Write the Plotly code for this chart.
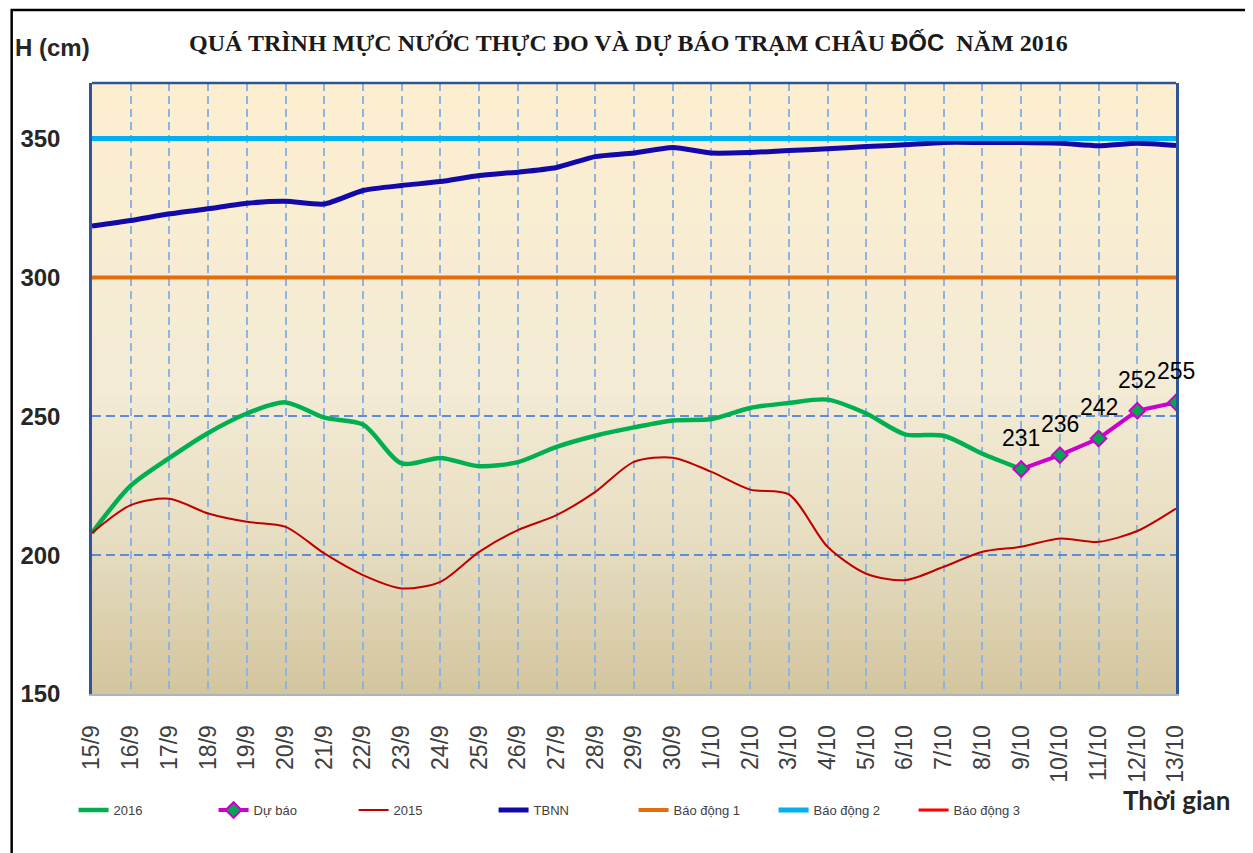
import plotly.graph_objects as go

dates = ["15/9", "16/9", "17/9", "18/9", "19/9", "20/9", "21/9", "22/9", "23/9", "24/9",
         "25/9", "26/9", "27/9", "28/9", "29/9", "30/9", "1/10", "2/10", "3/10", "4/10",
         "5/10", "6/10", "7/10", "8/10", "9/10", "10/10", "11/10", "12/10", "13/10"]

h2016 = [208, 225, 235, 244, 251, 255, 249.5, 247, 233, 235,
         232, 233.5, 239, 243, 246, 248.5, 249, 253, 254.8, 256,
         251, 243.5, 243, 236.5, 231, None, None, None, None]

du_bao = [None] * 24 + [231, 236, 242, 252, 255]

h2015 = [208, 218, 220.3, 215, 212, 210.2, 200.6, 192.8, 188, 190.4,
         201.2, 209, 214.4, 222.8, 233.6, 235.1, 230, 223.6, 221.9, 203,
         193.3, 191, 195.8, 201.2, 203, 206, 204.8, 208.7, 216.8]

tbnn = [318.5, 320.5, 322.9, 324.7, 326.7, 327.4, 326.4, 331.3, 333.1, 334.5,
        336.7, 337.9, 339.6, 343.5, 344.8, 346.8, 344.8, 345, 345.7, 346.3,
        347.1, 347.8, 348.6, 348.6, 348.6, 348.3, 347.4, 348.3, 347.5]

bao_dong_1 = [300] * len(dates)
bao_dong_2 = [350] * len(dates)
bao_dong_3 = [400] * len(dates)

y_ticks = [150, 200, 250, 300, 350]

fig = go.Figure()

fig.add_trace(go.Scatter(x=dates, y=h2016, name="2016", mode="lines",
                         line=dict(color="#00B050", width=4.5, shape="spline", smoothing=0.8)))
fig.add_trace(go.Scatter(x=dates, y=du_bao, name="Dự báo", mode="lines+markers",
                         line=dict(color="#CC00CC", width=4),
                         marker=dict(symbol="diamond", size=12, color="#00A651",
                                     line=dict(color="#CC00CC", width=2))))
fig.add_trace(go.Scatter(x=dates, y=h2015, name="2015", mode="lines",
                         line=dict(color="#C00000", width=2, shape="spline", smoothing=0.8)))
fig.add_trace(go.Scatter(x=dates, y=tbnn, name="TBNN", mode="lines",
                         line=dict(color="#1209A8", width=5, shape="spline", smoothing=0.6)))
fig.add_trace(go.Scatter(x=dates, y=bao_dong_1, name="Báo động 1", mode="lines",
                         line=dict(color="#E46C0A", width=4)))
fig.add_trace(go.Scatter(x=dates, y=bao_dong_2, name="Báo động 2", mode="lines",
                         line=dict(color="#00B0F0", width=5)))
fig.add_trace(go.Scatter(x=dates, y=bao_dong_3, name="Báo động 3", mode="lines",
                         line=dict(color="#FF0000", width=3)))

# Background vertical gradient (styling)
stops = [(0.0, (210, 197, 158)), (0.25, (231, 221, 193)), (0.5, (243, 235, 213)), (1.0, (253, 238, 208))]


def grad(t):
    for i in range(len(stops) - 1):
        a, ca = stops[i]
        b, cb = stops[i + 1]
        if a <= t <= b:
            f = (t - a) / (b - a)
            return "rgb(%d,%d,%d)" % tuple(round(ca[k] + (cb[k] - ca[k]) * f) for k in range(3))
    return "rgb(%d,%d,%d)" % stops[-1][1]


n = 80
shapes = []
for i in range(n):
    y0 = i / n
    y1 = min(1.0, (i + 1.6) / n)
    shapes.append(dict(type="rect", xref="x domain", yref="y domain", x0=0, x1=1, y0=y0, y1=y1,
                       fillcolor=grad((i + 0.5) / n), line=dict(width=0), layer="below"))
# top border of plot area
shapes.append(dict(type="line", xref="x domain", yref="y domain", x0=0, x1=1, y0=1, y1=1,
                   line=dict(color="#2E5597", width=2.5), layer="above"))
# outer frame
shapes.append(dict(type="rect", xref="paper", yref="paper", x0=-0.0741, x1=1.0654, y0=-0.29, y1=1.1195,
                   line=dict(color="black", width=2.5), fillcolor="rgba(0,0,0,0)", layer="above"))

annotations = [
    dict(text="QUÁ TRÌNH MỰC NƯỚC THỰC ĐO VÀ DỰ BÁO TRẠM CHÂU "
              "<span style='font-family:Liberation Sans'>ĐỐC</span>  NĂM 2016",
         xref="paper", yref="paper", x=0.4945, y=1.067, xanchor="center", yanchor="middle",
         showarrow=False, font=dict(family="Liberation Serif", size=24, color="#1a1a1a", weight="bold")),
    dict(text="H (cm)", xref="paper", yref="paper", x=-0.036, y=1.0573, xanchor="center", yanchor="middle",
         showarrow=False, font=dict(family="Liberation Sans", size=24, color="#262626", weight="bold")),
    dict(text="Thời gian", xref="paper", yref="paper", x=1.0, y=-0.1735, xanchor="center", yanchor="middle",
         showarrow=False, font=dict(family="Lato", size=26, color="#262626", weight="bold")),
]
for d, v in zip(dates, du_bao):
    if v is not None:
        annotations.append(dict(x=d, y=v, text=str(v), showarrow=False, yshift=31,
                                xanchor="center", yanchor="middle",
                                font=dict(family="Liberation Sans", size=23, color="black")))

fig.update_layout(
    width=1245, height=845,
    margin=dict(l=82, r=77, t=75, b=159),
    paper_bgcolor="white",
    plot_bgcolor="rgba(0,0,0,0)",
    shapes=shapes,
    annotations=annotations,
    showlegend=True,
    legend=dict(orientation="h", x=-0.017, y=-0.19, xanchor="left", yanchor="middle",
                font=dict(family="Liberation Sans", size=13, color="#404040"),
                bgcolor="rgba(0,0,0,0)", entrywidth=95, entrywidthmode="pixels"),
    xaxis=dict(type="category", range=[0, 28], showgrid=True, gridcolor="#8DB4E2", gridwidth=2,
               griddash="8px,5px", tickangle=-90, ticks="",
               tickfont=dict(family="Liberation Sans", size=23, color="#404040"),
               ticklabelstandoff=20, showline=True, linecolor="#A9B4C4", linewidth=2,
               zeroline=False),
    yaxis=dict(range=[150, 370], tickvals=y_ticks, showgrid=True, gridcolor="#5B8ED6", gridwidth=1.5,
               griddash="9px,5px", ticks="",
               tickfont=dict(family="Liberation Sans", size=24, color="#262626", weight="bold"),
               ticklabelstandoff=24, showline=True, linecolor="#2E5597", linewidth=2.5, mirror=True,
               zeroline=False),
)

fig.write_html("out.html")
